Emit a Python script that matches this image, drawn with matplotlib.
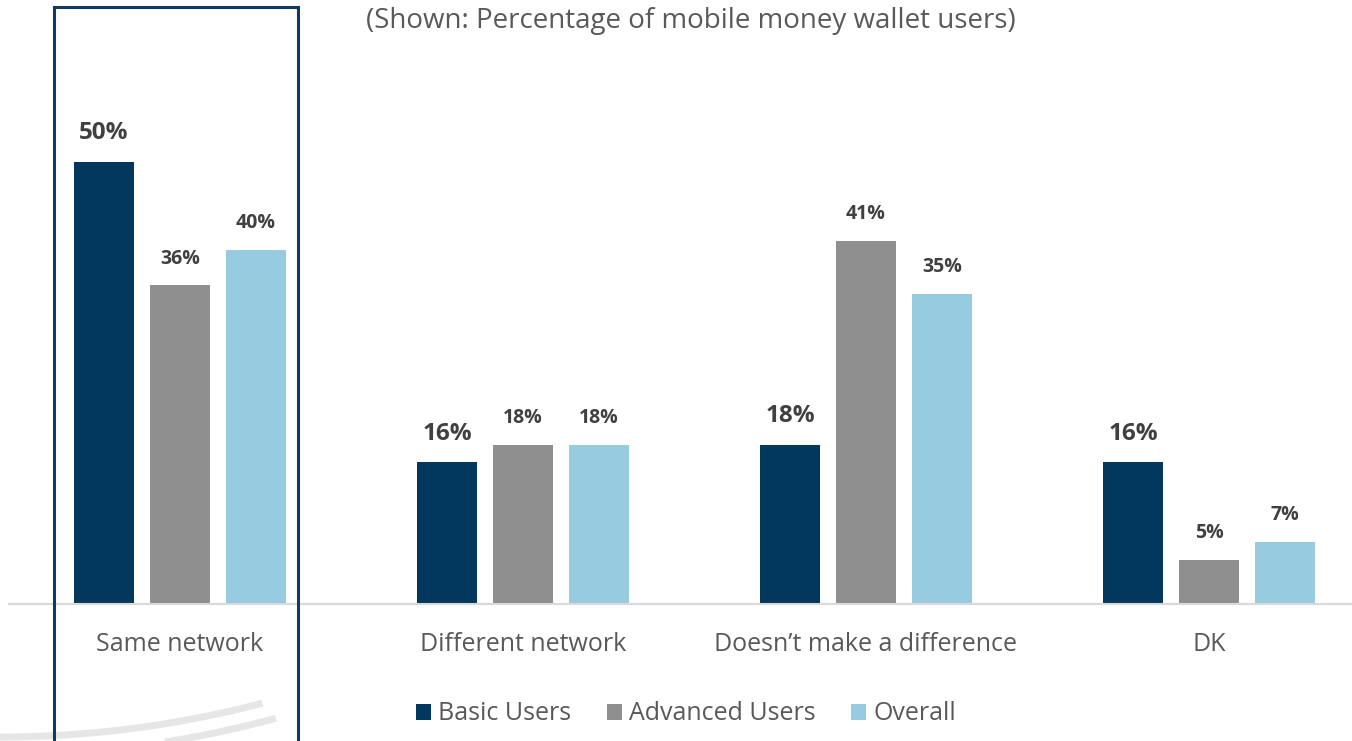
import numpy as np
import matplotlib.pyplot as plt
from matplotlib.patches import Rectangle

plt.rcParams['font.family'] = ['Open Sans', 'DejaVu Sans']

# Data
categories = ["Same network", "Different network", "Doesn\u2019t make a difference", "DK"]
series = ["Basic Users", "Advanced Users", "Overall"]
basic = [50, 16, 18, 16]
advanced = [36, 18, 41, 5]
overall = [40, 18, 35, 7]

colors = ["#02385E", "#8F8F8F", "#96CBE0"]
label_sizes = [17.5, 14, 14]

fig = plt.figure(figsize=(13.52, 7.41), dpi=100)
W, H = 1352, 741
# axes runs a bit past the right edge of the canvas
ax = fig.add_axes([8.5 / W, (H - 604) / H, 1372 / W, 531 / H])

x = np.arange(len(categories))
bar_w = 60 / 343
step = 76 / 343
for i, (vals, name) in enumerate(zip([basic, advanced, overall], series)):
    pos = x + (i - 1) * step
    bars = ax.bar(pos, vals, width=bar_w, color=colors[i], label=name, zorder=2)
    for b, v in zip(bars, vals):
        ax.text(b.get_x() + b.get_width() / 2, v + 1.9, f"{v}%", ha='center', va='bottom',
                fontsize=label_sizes[i], fontweight='bold', color="#404040")

ax.set_xlim(-0.5, len(categories) - 0.5)
ax.set_ylim(0, 60)
for s in ["top", "right", "left"]:
    ax.spines[s].set_visible(False)
ax.spines["bottom"].set_color("#D9D9D9")
ax.spines["bottom"].set_linewidth(1.5)
ax.set_yticks([])
ax.set_xticks(x)
ax.set_xticklabels(categories, fontsize=18, color="#595959")
ax.tick_params(axis='x', length=0, pad=20)

fig.text(366 / W, 1 - 21 / H, "(Shown: Percentage of mobile money wallet users)",
         ha='left', va='center', fontsize=20, color="#595959")

leg = fig.legend(loc='center', bbox_to_anchor=(686 / W, 1 - 714 / H), ncol=3, frameon=False,
                 fontsize=18, handlelength=0.6, handleheight=0.6, handletextpad=0.3,
                 columnspacing=1.4)
for t in leg.get_texts():
    t.set_color("#595959")

# highlight box around the first category
fig.patches.append(Rectangle((54 / W, -0.05), 244 / W, 1.05 - 7 / H, transform=fig.transFigure,
                             fill=False, edgecolor="#0E3A63", linewidth=2.2, zorder=5))

# faint watermark arcs (pixel geometry, converted to figure fraction)
cx, cy = 0, -297
for r, a0, a1 in [(1034, -3, 14.7), (1052, 8.8, 15.2)]:
    t = np.radians(np.linspace(a0, a1, 60))
    px = cx + r * np.sin(t)
    py = cy + r * np.cos(t)
    fig.add_artist(plt.Line2D(px / W, 1 - py / H, transform=fig.transFigure,
                              color="#E6E6E6", linewidth=5, zorder=0,
                              solid_capstyle='butt'))

fig.savefig("out.png", dpi=100)
